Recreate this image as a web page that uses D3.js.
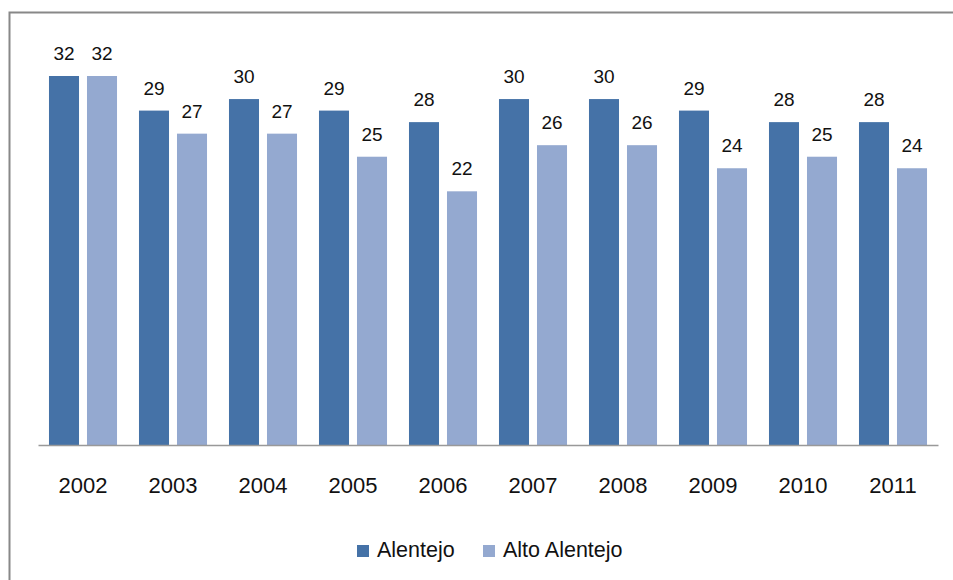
<!DOCTYPE html>
<html><head><meta charset="utf-8">
<script src="https://cdn.jsdelivr.net/npm/d3@7"></script>
<style>body{margin:0;background:#fff}svg{display:block}</style>
</head><body>
<svg id="c" width="953" height="580"></svg>
<script>
const years = ["2002","2003","2004","2005","2006","2007","2008","2009","2010","2011"];
const alentejo = [32,29,30,29,28,30,30,29,28,28];
const altoAlentejo = [32,27,27,25,22,26,26,24,25,24];
const seriesNames = ["Alentejo","Alto Alentejo"];
const colors = ["#4572a7","#94a9d0"];

const svg = d3.select("#c");
const font = "'Liberation Sans', Arial, sans-serif";

// outer frame (extends beyond the right and bottom edges)
svg.append("rect").attr("x",9.5).attr("y",12.5).attr("width",960).attr("height",600)
  .attr("fill","none").attr("stroke","#888").attr("stroke-width",2);

const x0 = d3.scaleBand().domain(years).range([38,938]).paddingInner(0.244).paddingOuter(0.122);
const x1 = d3.scaleBand().domain(seriesNames).range([0,x0.bandwidth()]).paddingInner(0.21);
const y = d3.scaleLinear().domain([0,32]).range([445,76]);

const data = years.map((yr,i)=>({year:yr, vals:[alentejo[i],altoAlentejo[i]]}));

const g = svg.append("g");
const groups = g.selectAll("g.grp").data(data).join("g")
  .attr("transform",d=>`translate(${x0(d.year)},0)`);
groups.selectAll("rect").data(d=>d.vals.map((v,k)=>({v,k}))).join("rect")
  .attr("x",d=>x1(seriesNames[d.k])).attr("width",x1.bandwidth())
  .attr("y",d=>y(d.v)).attr("height",d=>y(0)-y(d.v))
  .attr("fill",d=>colors[d.k]);
groups.selectAll("text").data(d=>d.vals.map((v,k)=>({v,k}))).join("text")
  .attr("x",d=>x1(seriesNames[d.k])+x1.bandwidth()/2).attr("y",d=>y(d.v)-16)
  .attr("text-anchor","middle").attr("font-family",font).attr("font-size",19)
  .attr("fill","#111").text(d=>d.v);

// axis
const ax = svg.append("g").attr("transform",`translate(0,${y(0)})`)
  .call(d3.axisBottom(x0).tickSize(0).tickPadding(0));
ax.select(".domain").attr("stroke","#999").attr("stroke-width",1.5);
ax.selectAll("text").attr("font-family",font).attr("font-size",22).attr("fill","#111")
  .attr("dy",0).attr("y",48);

// legend
const legend = svg.append("g");
const lx = [357,483];
seriesNames.forEach((n,k)=>{
  legend.append("rect").attr("x",lx[k]).attr("y",545).attr("width",12).attr("height",12).attr("fill",colors[k]);
  legend.append("text").attr("x",lx[k]+20).attr("y",557).attr("font-family",font).attr("font-size",21.5)
    .attr("fill","#111").text(n);
});
</script>
</body></html>
